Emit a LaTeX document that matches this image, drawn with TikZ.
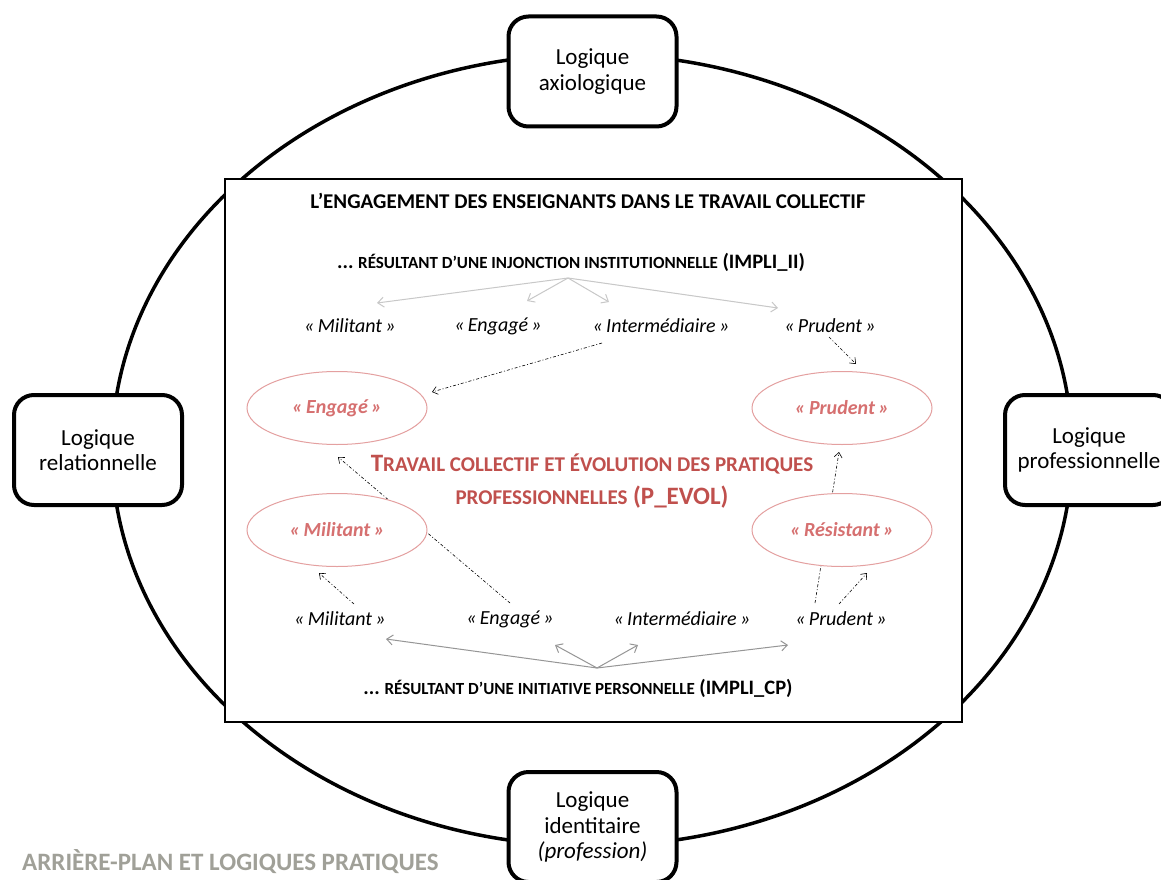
\documentclass[tikz,border=0pt]{standalone}
\usepackage{fontspec}
\setmainfont{Carlito}
\usetikzlibrary{arrows.meta,shapes.geometric}
\definecolor{ellline}{RGB}{228,160,160}
\definecolor{elltext}{RGB}{214,112,112}
\definecolor{darkred}{RGB}{192,80,77}
\definecolor{lightarrow}{RGB}{200,200,200}
\definecolor{midarrow}{RGB}{150,150,150}
\definecolor{captiongray}{RGB}{160,160,152}
\newcommand\fsc[1]{{\fontsize{17}{19}\selectfont #1}}
\newcommand\fscb[1]{{\fontsize{21}{23}\selectfont #1}}
\begin{document}
\begin{tikzpicture}[x=1pt,y=-1pt,
  logic/.style={draw=black, line width=4pt, rounded corners=20pt, fill=white,
    minimum width=168pt, minimum height=110pt, align=center, inner sep=0pt,
    font=\fontsize{23}{25.5}\selectfont},
  word/.style={font=\itshape\fontsize{20}{22}\selectfont, inner sep=0pt},
  ell/.style={ellipse, draw=ellline, line width=1pt, fill=white, text=elltext,
    minimum width=180pt, minimum height=73pt, inner sep=0pt,
    font=\bfseries\itshape\fontsize{20}{22}\selectfont},
  garrow/.style={draw=lightarrow, line width=1pt, -{Straight Barb[length=6pt,width=10pt]}},
  marrow/.style={draw=midarrow, line width=1pt, -{Straight Barb[length=6pt,width=10pt]}},
  dd/.style={draw=black, line width=0.6pt, dash pattern=on 3pt off 2pt on 1pt off 2pt,
    -{Straight Barb[length=5pt,width=8pt]}}
]
\useasboundingbox (0,0) rectangle (1161,880);
% background ellipse
\draw[line width=3.5pt] (592,450) ellipse [x radius=480, y radius=396];
% main frame
\node[draw=black, line width=2.5pt, fill=white, minimum width=737pt, minimum height=543pt, inner sep=0pt] (main) at (593.5,450.5) {};
% logic boxes
\node[logic] (ax) at (592.5,71.5) {Logique\\axiologique};
\node[logic] (rel) at (98,450) {Logique\\relationnelle};
\node[logic] (pro) at (1089,450) {Logique\\professionnelle};
\node[logic] (id) at (592.5,827) {Logique\\identitaire\\\textit{(profession)}};
% titles
\node[font=\bfseries\fontsize{21}{24}\selectfont, inner sep=0pt] (title) at (588,201) {L’ENGAGEMENT DES ENSEIGNANTS DANS LE TRAVAIL COLLECTIF};
\node[font=\bfseries\fontsize{20.5}{22}\selectfont, inner sep=0pt] (inj) at (571,262) {...\ \fsc{RÉSULTANT D’UNE INJONCTION INSTITUTIONNELLE} (IMPLI\_II)};
\node[font=\bfseries\fontsize{20.5}{22}\selectfont, inner sep=0pt] (ini) at (578,688) {...\ \fsc{RÉSULTANT D’UNE INITIATIVE PERSONNELLE} (IMPLI\_CP)};
% top row words
\node[word] (tm) at (350,326) {«\,Militant\,»};
\node[word] (te) at (498,326) {«\,Engagé\,»};
\node[word] (ti) at (661,326) {«\,Intermédiaire\,»};
\node[word] (tp) at (830,326) {«\,Prudent\,»};
% bottom row words
\node[word] (bm) at (340,619) {«\,Militant\,»};
\node[word] (be) at (510,619) {«\,Engagé\,»};
\node[word] (bi) at (682,619) {«\,Intermédiaire\,»};
\node[word] (bp) at (841,619) {«\,Prudent\,»};
% coordinates for arrows
\coordinate (to) at (568,278);
\coordinate (t1) at (377,303);
\coordinate (t2) at (527,301);
\coordinate (t3) at (609,302);
\coordinate (t4) at (778,308);
\coordinate (bo) at (597,668);
\coordinate (b1) at (386,639);
\coordinate (b2) at (555,645);
\coordinate (b3) at (638,645);
\coordinate (b4) at (788,645);
\coordinate (d1s) at (602,343);
\coordinate (d1e) at (432,392);
\coordinate (d2s) at (829,337);
\coordinate (d2e) at (856,364);
\coordinate (d3s) at (510,603);
\coordinate (d3e) at (338,457);
\coordinate (d4s) at (354,604);
\coordinate (d4e) at (319,573);
\coordinate (d5s) at (815,603);
\coordinate (d5e) at (839,452);
\coordinate (d6s) at (839,604);
\coordinate (d6e) at (867,573);
% gray arrows
\foreach \t in {t1,t2,t3,t4} \draw[garrow] (to) -- (\t);
\foreach \b in {b1,b2,b3,b4} \draw[marrow] (bo) -- (\b);
% dash-dot arrows
\draw[dd] (d1s) -- (d1e);
\draw[dd] (d2s) -- (d2e);
\draw[dd] (d3s) -- (d3e);
\draw[dd] (d4s) -- (d4e);
\draw[dd] (d5s) -- (d5e);
\draw[dd] (d6s) -- (d6e);
% ellipses
\node[ell] (eeng) at (337,408) {«\,Engagé\,»};
\node[ell] (epru) at (842,408) {«\,Prudent\,»};
\node[ell] (emil) at (337,530) {«\,Militant\,»};
\node[ell] (eres) at (842,530) {«\,Résistant\,»};
% central text
\node[text=darkred, font=\bfseries\fontsize{25}{33}\selectfont, align=center, inner sep=0pt] (pevol) at (592,481)
  {T\fscb{RAVAIL COLLECTIF ET ÉVOLUTION DES PRATIQUES}\\\fscb{PROFESSIONNELLES} (P\_EVOL)};
% caption
\node[anchor=west, text=captiongray, font=\bfseries\fontsize{25}{28}\selectfont, inner sep=0pt] (cap) at (22,862) {ARRIÈRE-PLAN ET LOGIQUES PRATIQUES};
\end{tikzpicture}
\end{document}
